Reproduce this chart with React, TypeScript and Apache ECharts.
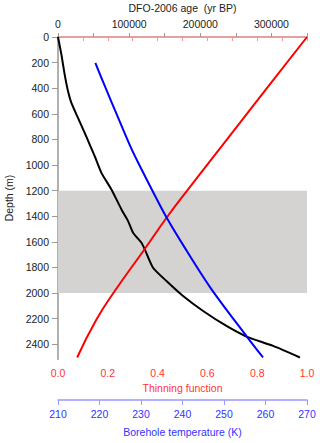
import React, { useEffect, useRef } from "react";
import * as echarts from "echarts";

// Black: DFO-2006 age vs depth
const ageDepths = [0, 138, 294, 424, 515, 632, 749, 840, 931, 1061, 1191, 1347, 1438, 1529, 1607, 1659, 1802, 1906, 2023, 2140, 2257, 2340, 2413, 2503];
const ages = [0, 4800, 9400, 14100, 18800, 28100, 37500, 44600, 51600, 61000, 75100, 89200, 98500, 105500, 117300, 122000, 133600, 152500, 175800, 204000, 236800, 265000, 302400, 340000];

// Red: thinning function vs depth
const thinDepths = [0, 400, 801, 1204, 1412, 1654, 1984, 2205, 2503];
const thinning = [1.0, 0.839, 0.678, 0.517, 0.436, 0.349, 0.228, 0.155, 0.077];

// Blue: borehole temperature vs depth
const tempDepths = [203, 400, 600, 866, 1000, 1191, 1412, 1659, 1971, 2340, 2503];
const temps = [219.0, 221.5, 224.1, 227.6, 229.6, 232.6, 236.2, 240.8, 247.0, 255.5, 259.4];

// Shaded band
const bandDepths = [1200, 2000];

const FONT = "Liberation Sans, Arial, Helvetica, sans-serif";

export default function App() {
  const ref = useRef<HTMLDivElement>(null);
  useEffect(() => {
    if (!ref.current) return;
    const chart = echarts.init(ref.current, null, { renderer: "svg" });
    const yCommon = {
      type: "value",
      inverse: true,
      min: 0,
      max: 2515,
      interval: 200,
      splitLine: { show: false },
    };
    chart.setOption({
      animation: false,
      textStyle: { fontFamily: FONT },
      grid: { left: 58, right: 13, top: 37, bottom: 84, containLabel: false, outerBoundsMode: "none" },
      xAxis: [
        {
          type: "value",
          position: "top",
          min: 0,
          max: 350000,
          interval: 50000,
          name: "DFO-2006 age  (yr BP)",
          nameLocation: "middle",
          nameGap: 21,
          nameTextStyle: { color: "#222", fontSize: 10.5, fontFamily: FONT },
          axisLine: { lineStyle: { color: "#b0b0b0", width: 2 } },
          axisTick: { length: 4, lineStyle: { color: "#999" } },
          axisLabel: {
            color: "#222",
            fontSize: 10.5,
            fontFamily: FONT,
            margin: 8,
            formatter: (v: number) => (v % 100000 === 0 && v < 350000 ? String(v) : ""),
          },
          splitLine: { show: false },
        },
        {
          type: "value",
          position: "bottom",
          min: 0,
          max: 1,
          interval: 0.1,
          name: "Thinning function",
          nameLocation: "middle",
          nameGap: 22,
          nameTextStyle: { color: "#ff3333", fontSize: 10.5, fontFamily: FONT },
          axisLine: { lineStyle: { color: "#f59a9a", width: 1.5 } },
          axisTick: { length: 4, lineStyle: { color: "#f59a9a" } },
          axisLabel: {
            color: "#ff3333",
            fontSize: 10.5,
            fontFamily: FONT,
            margin: 8,
            formatter: (v: number) => (Math.round(v * 10) % 2 === 0 ? v.toFixed(1) : ""),
          },
          splitLine: { show: false },
        },
        {
          type: "value",
          position: "bottom",
          offset: 41,
          min: 210,
          max: 270,
          interval: 10,
          name: "Borehole temperature (K)",
          nameLocation: "middle",
          nameGap: 26,
          nameTextStyle: { color: "#3333ff", fontSize: 10.5, fontFamily: FONT },
          axisLine: { lineStyle: { color: "#9999ff", width: 1.5 } },
          axisTick: { length: 5, lineStyle: { color: "#9999ff" } },
          axisLabel: { color: "#3333ff", fontSize: 10.5, fontFamily: FONT, margin: 8 },
          splitLine: { show: false },
        },
      ],
      yAxis: [
        {
          ...yCommon,
          position: "left",
          name: "Depth (m)",
          nameLocation: "middle",
          nameGap: 40,
          nameTextStyle: { color: "#222", fontSize: 10.5, fontFamily: FONT },
          axisLine: { lineStyle: { color: "#a0a0a0", width: 1.5 } },
          axisTick: { length: 6, lineStyle: { color: "#999" } },
          axisLabel: {
            color: "#222",
            fontSize: 10.5,
            fontFamily: FONT,
            margin: 9,
            showMaxLabel: false,
            formatter: (v: number) => (v % 200 === 0 ? String(v) : ""),
          },
        },
        {
          ...yCommon,
          position: "right",
          axisLine: { lineStyle: { color: "#b0b0b0", width: 2 } },
          axisTick: { show: false },
          axisLabel: { show: false },
        },
      ],
      series: [
        {
          type: "line",
          xAxisIndex: 0,
          yAxisIndex: 0,
          data: ages.map((a, i) => [a, ageDepths[i]]),
          showSymbol: false,
          smooth: 0.2,
          lineStyle: { color: "#000", width: 2 },
          z: 3,
          markArea: {
            silent: true,
            itemStyle: { color: "#d4d3d2" },
            data: [[{ yAxis: bandDepths[0] }, { yAxis: bandDepths[1] }]],
          },
        },
        {
          type: "line",
          xAxisIndex: 1,
          yAxisIndex: 0,
          data: thinning.map((t, i) => [t, thinDepths[i]]),
          showSymbol: false,
          smooth: true,
          lineStyle: { color: "#ff0000", width: 2 },
          z: 3,
        },
        {
          type: "line",
          xAxisIndex: 2,
          yAxisIndex: 0,
          data: temps.map((t, i) => [t, tempDepths[i]]),
          showSymbol: false,
          smooth: 0.3,
          lineStyle: { color: "#0000ff", width: 2 },
          z: 3,
        },
      ],
    });
    return () => chart.dispose();
  }, []);
  return <div ref={ref} style={{ width: 320, height: 443, position: "absolute", left: 0, top: 0 }} />;
}
